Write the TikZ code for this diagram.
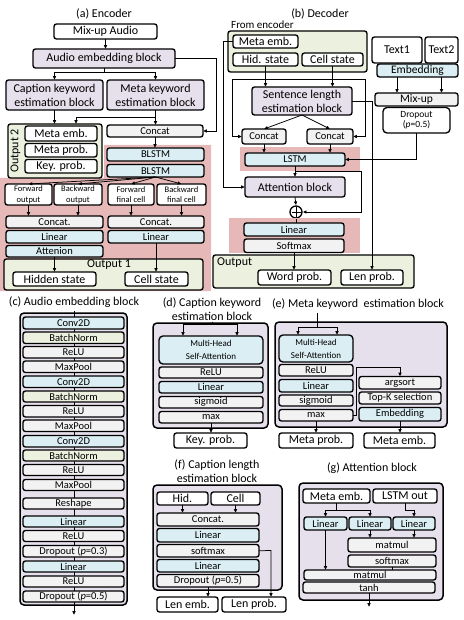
\documentclass[tikz,border=0pt]{standalone}
\usepackage{fontspec}
\setmainfont{Carlito}
\usetikzlibrary{arrows.meta}
\definecolor{lav}{HTML}{E6E0EC}
\definecolor{lblue}{HTML}{DAEEF3}
\definecolor{lgray}{HTML}{F2F2F2}
\definecolor{lgreen}{HTML}{EBF1DE}
\definecolor{lpink}{HTML}{E6B9B8}
\newcommand\szL{\fontsize{12}{14}\selectfont}
\newcommand\szT{\fontsize{11}{13}\selectfont}
\newcommand\szM{\fontsize{10.5}{12}\selectfont}
\newcommand\szN{\fontsize{9.5}{10.5}\selectfont}
\newcommand\szS{\fontsize{8.5}{10.5}\selectfont}
\newcommand\mybox[7]{\node[bx,#6,minimum width={(#4-#2)*1pt},minimum height={(#5-#3)*1pt}] (#1) at ({(#2+#4)/2},{(#3+#5)/2}) {#7};}
\begin{document}
\begin{tikzpicture}[x=1pt,y=-1pt,
  bx/.style={draw,line width=1.35pt,rounded corners=2.5pt,inner sep=0pt,outer sep=0pt,align=center},
  cont/.style={draw,line width=1.5pt,rounded corners=4pt,inner sep=0pt,outer sep=0pt},
  arr/.style={-{Latex[length=3.8pt,width=3.6pt]},line width=0.75pt},
  ln/.style={line width=0.75pt},
  wf/.style={fill=white,font=\szL},
  gf/.style={fill=lgray,font=\szM},
  bf/.style={fill=lblue,font=\szM},
  nf/.style={fill=lgreen,font=\szM}]
\useasboundingbox (0,0) rectangle (463,620);
%================ (a) Encoder
\node[font=\szL] (ta) at (104,14) {(a) Encoder};
\mybox{mix}{54}{24}{157}{39}{wf}{Mix-up Audio}
\mybox{aeb}{33}{49}{175}{68}{fill=lav,font=\szL}{Audio embedding block}
\mybox{ckb}{6}{80}{103}{110}{fill=lav,font=\szL}{Caption keyword\\estimation block}
\mybox{mkb}{107}{80}{204}{110}{fill=lav,font=\szL}{Meta keyword\\estimation block}
\fill[lpink] (104,145) -- (211,145) -- (211,291) -- (0,291) -- (0,178) -- (104,178) -- cycle;
\mybox{out2}{8}{124}{102}{178}{fill=lgreen}{}
\node[font=\szL,rotate=90] (o2t) at (15.5,151) {Output 2};
\mybox{me}{25}{126}{97}{141}{wf}{Meta emb.}
\mybox{mp}{25}{143.5}{97}{157}{wf}{Meta prob.}
\mybox{kp}{25}{159.5}{97}{173}{wf}{Key. prob.}
\mybox{cate}{107}{125}{203}{137}{gf}{Concat}
\mybox{bl1}{107}{148}{204}{161}{bf}{BLSTM}
\mybox{bl2}{107}{164.5}{204}{177}{bf}{BLSTM}
\mybox{fo}{5}{184}{52}{205}{fill=white,font=\szS}{Forward\\output}
\mybox{bo}{54}{184}{102}{205}{fill=white,font=\szS}{Backward\\output}
\mybox{ff}{108}{184}{154}{205}{fill=white,font=\szS}{Forward\\final cell}
\mybox{bfc}{157}{184}{206}{205}{fill=white,font=\szS}{Backward\\final cell}
\mybox{catl}{6}{216}{103}{228}{gf}{Concat.}
\mybox{linl}{6}{230.5}{103}{243}{bf}{Linear}
\mybox{att}{6}{245.5}{103}{257}{bf}{Attenion}
\mybox{catr}{108}{216}{204}{228}{gf}{Concat.}
\mybox{linr}{108}{230.5}{204}{243}{bf}{Linear}
\mybox{out1}{4}{259}{203}{290}{fill=lgreen}{}
\node[font=\szL] (o1t) at (109,265) {Output 1};
\mybox{hid}{13}{272}{96}{286}{wf}{Hidden state}
\mybox{cell}{125}{272}{188}{286}{wf}{Cell state}
% connectors
\draw[arr] (mix.south) -- (mix.south |- aeb.north);
\coordinate (j1) at (105,72);
\draw[ln] (aeb.south) -- (aeb.south |- j1);
\draw[arr] (j1) -| (ckb.north);
\draw[arr] (j1) -| (mkb.north);
\coordinate (r1) at (216,58);
\draw[arr] (aeb.east |- r1) -- (r1) |- (cate.east);
\draw[arr] (ckb.south) -- (ckb.south |- out2.north);
\coordinate (j2) at (155.5,117);
\coordinate (j3) at (76,117);
\draw[arr] (mkb.south) -- (mkb.south |- cate.north);
\draw[arr] (j2) -- (j3) -- (j3 |- out2.north);
\draw[arr] (cate.south) -- (cate.south |- bl1.north);
\draw[arr] (bl2.south) -- (fo.north);
\draw[arr] (bl2.south) -- (bo.north);
\draw[arr] (bl2.south) -- (ff.north);
\draw[arr] (bl2.south) -- (bfc.north);
\draw[arr] (fo.south) -- (fo.south |- catl.north);
\draw[arr] (bo.south) -- (bo.south |- catl.north);
\draw[arr] (ff.south) -- (ff.south |- catr.north);
\draw[arr] (bfc.south) -- (bfc.south |- catr.north);
\draw[arr] (att.south) -- (att.south |- hid.north);
\draw[arr] (linr.south) -- (linr.south |- cell.north);
%================ (b) Decoder
\node[font=\szL] (tb) at (320,14) {(b) Decoder};
\node[font=\szT,anchor=west,inner sep=0pt] (fet) at (231,25) {From encoder};
\mybox{fe}{228}{31}{367}{72}{fill=lgreen}{}
\mybox{dme}{233}{35}{298}{48}{wf}{Meta emb.}
\mybox{dhid}{233}{53}{298}{66}{wf}{Hid. state}
\mybox{dcell}{302}{53}{363}{66}{wf}{Cell state}
\mybox{slb}{252}{87}{352}{115}{fill=lav,font=\szL}{Sentence length\\estimation block}
\mybox{dcl}{242}{129}{286}{144}{gf}{Concat}
\mybox{dcr}{307}{129}{353}{144}{gf}{Concat}
\fill[lpink] (240,147) rectangle (360,171);
\mybox{lstm}{245}{153}{345}{166}{bf}{LSTM}
\mybox{attb}{245}{177}{345}{197}{fill=lav,font=\szL}{Attention block}
\node[draw,circle,line width=1.35pt,minimum size=12pt,inner sep=0pt,fill=white] (plus) at (296,212) {};
\draw[line width=0.9pt] (291.5,212) -- (300.5,212) (296,207.5) -- (296,216.5);
\fill[lpink] (229,218) rectangle (360,253);
\mybox{dlin}{244}{223}{344}{236}{bf}{Linear}
\mybox{soft}{244}{239}{344}{252.5}{gf}{Softmax}
\mybox{dout}{213}{255}{414}{288}{fill=lgreen}{}
\node[font=\szL,anchor=west,inner sep=0pt] (dot) at (217,263) {Output};
\mybox{word}{258}{270}{331}{285}{wf}{Word prob.}
\mybox{lenp}{341}{270}{403}{285}{wf}{Len prob.}
\mybox{t1}{372}{37}{422}{63}{wf}{Text1}
\mybox{t2}{425}{37}{458}{63}{wf}{Text2}
\mybox{dmix}{375}{93}{458}{106}{fill=lgray,font=\fontsize{11.5}{13}\selectfont}{Mix-up}
\draw[arr] (t1.south) -- (t1.south |- dmix.north);
\draw[arr] (t2.south) -- (t2.south |- dmix.north);
\mybox{demb}{377}{64}{458}{77}{fill=lblue,font=\fontsize{11.5}{13}\selectfont}{Embedding}
\mybox{ddrop}{383}{107.5}{450}{133}{fill=white,rounded corners=4pt,font=\szN}{Dropout\\(\textit{p}=0.5)}
% connectors
\coordinate (dl) at (223,41.5);
\draw[arr] (dme.west) -- (dl) |- (attb.west);
\draw[arr] (dhid.south) -- (dhid.south |- slb.north);
\draw[arr] (dcell.south) -- (dcell.south |- slb.north);
\coordinate (hl) at (232,79);
\coordinate (hr) at (365,79);
\draw[ln] (hl) -- (hr);
\draw[arr] (hl) |- (dcl.west);
\draw[arr] (hr) |- (dcr.east);
\draw[arr] (slb.south) -- (dcl.north);
\draw[arr] (slb.south) -- (dcr.north);
\coordinate (sr) at (372,101);
\draw[arr] (slb.east |- sr) -- (sr) -- (sr |- lenp.north);
\draw[arr] (dcl.south) -- (dcl.south |- lstm.north);
\draw[arr] (dcr.south) -- (dcr.south |- lstm.north);
\coordinate (dr) at (416.5,159.5);
\draw[arr] (ddrop.south) -- (dr) -- (lstm.east |- dr);
\draw[arr] (lstm.south) -- (lstm.south |- attb.north);
\coordinate (lb) at (295,171.5);
\coordinate (lr) at (361,171.5);
\draw[arr] (lb) -- (lr) |- (plus.east);
\draw[arr] (attb.south) -- (plus.north);
\draw[ln] (plus.south) -- (plus.south |- dlin.north);
\draw[arr] (soft.south) -- (soft.south |- word.north);
%================ (c) Audio embedding block
\node[font=\szL] (tc) at (74,302) {(c) Audio embedding block};
\mybox{cout}{20}{313}{127}{605}{cont,fill=lav}{}
\coordinate (cend) at (74,615);
\draw[arr] (tc.south) -- (cend);
\mybox{c1}{23}{317}{124}{329}{bf}{Conv2D}
\mybox{c2}{23}{332}{124}{343.5}{nf}{BatchNorm}
\mybox{c3}{23}{346.5}{124}{358}{gf}{ReLU}
\mybox{c4}{23}{361}{124}{372.5}{gf}{MaxPool}
\mybox{c5}{23}{376}{124}{387.5}{bf}{Conv2D}
\mybox{c6}{23}{391}{124}{402}{nf}{BatchNorm}
\mybox{c7}{23}{405.5}{124}{417}{gf}{ReLU}
\mybox{c8}{23}{420}{124}{431.5}{gf}{MaxPool}
\mybox{c9}{23}{435.5}{124}{447}{bf}{Conv2D}
\mybox{c10}{23}{450}{124}{461}{nf}{BatchNorm}
\mybox{c11}{23}{464.5}{124}{475.5}{gf}{ReLU}
\mybox{c12}{23}{479.5}{124}{490.5}{gf}{MaxPool}
\mybox{c13}{23}{498}{124}{509}{gf}{Reshape}
\mybox{c14}{23}{516}{124}{527}{bf}{Linear}
\mybox{c15}{23}{530.5}{124}{541.5}{gf}{ReLU}
\mybox{c16}{23}{545.5}{124}{557}{gf}{Dropout (\textit{p}=0.3)}
\mybox{c17}{23}{561}{124}{572}{bf}{Linear}
\mybox{c18}{23}{576}{124}{587}{gf}{ReLU}
\mybox{c19}{23}{591}{124}{602}{gf}{Dropout (\textit{p}=0.5)}
%================ (d) Caption keyword estimation block
\node[font=\szL,align=center,inner sep=1pt] (td) at (212,309) {(d) Caption keyword\\estimation block};
\mybox{dout2}{153}{323}{268}{428}{cont,fill=lav}{}
\mybox{dmh}{159}{336}{263}{364}{fill=lblue,rounded corners=4pt,font=\fontsize{9}{13}\selectfont}{Multi-Head\\Self-Attention}
\mybox{d1}{159}{367}{263}{378}{gf}{ReLU}
\mybox{d2}{159}{381.5}{263}{393}{bf}{Linear}
\mybox{d3}{159}{396.5}{263}{408}{gf}{sigmoid}
\mybox{d4}{159}{411.5}{263}{423}{gf}{max}
\mybox{dkp}{174}{433}{247}{448}{wf}{Key. prob.}
\coordinate (dj) at (212,324);
\coordinate (dbl) at (183,324);
\coordinate (dbr) at (237,324);
\draw[ln] (td.south) -- (dj);
\draw[ln] (dbl) -- (dbr);
\draw[arr] (dbl) -- (dbl |- dmh.north);
\draw[arr] (dbr) -- (dbr |- dmh.north);
\draw[arr] (d4.south) -- (d4.south |- dkp.north);
%================ (e) Meta keyword estimation block
\node[font=\szL] (te) at (358,304) {(e) Meta keyword\ \ estimation block};
\mybox{eout}{275}{322}{447}{427}{cont,fill=lav}{}
\mybox{emh}{279}{335}{353}{362}{fill=lblue,rounded corners=4pt,font=\fontsize{9}{13}\selectfont}{Multi-Head\\Self-Attention}
\mybox{e1}{279}{364.5}{353}{376}{gf}{ReLU}
\mybox{e2}{279}{379.5}{353}{392}{bf}{Linear}
\mybox{e3}{279}{395}{353}{406}{gf}{sigmoid}
\mybox{e4}{279}{409.5}{353}{421}{gf}{max}
\mybox{e5}{359}{376.5}{441}{389}{gf}{argsort}
\mybox{e6}{359}{392}{441}{404}{gf}{Top-K selection}
\mybox{e7}{359}{407.5}{441}{421}{bf}{Embedding}
\mybox{emp}{279}{433}{353}{448}{wf}{Meta prob.}
\mybox{eme}{364}{433}{435}{448}{wf}{Meta emb.}
\coordinate (ej) at (317,327);
\coordinate (ebl) at (298,327);
\coordinate (ebr) at (337,327);
\draw[ln] (te.south -| ej) -- (ej);
\draw[ln] (ebl) -- (ebr);
\draw[arr] (ebl) -- (ebl |- emh.north);
\draw[arr] (ebr) -- (ebr |- emh.north);
\coordinate (em1) at (356,415);
\coordinate (em2) at (356,367);
\draw[arr] (e4.east |- em1) -- (em1) -- (em2) -| (e5.north);
\draw[arr] (e4.south) -- (e4.south |- emp.north);
\draw[arr] (e7.south) -- (e7.south |- eme.north);
%================ (f) Caption length estimation block
\node[font=\szL,align=center,inner sep=1pt] (tf) at (217,471) {(f) Caption length\\estimation block};
\mybox{fout}{153}{485}{282}{590}{cont,fill=lav}{}
\mybox{fhid}{157}{492}{208}{505}{wf}{Hid.}
\mybox{fcell}{211}{492}{260}{505}{wf}{Cell}
\mybox{f1}{157}{513}{259}{526}{gf}{Concat.}
\mybox{f2}{157}{528.5}{259}{542}{bf}{Linear}
\mybox{f3}{157}{544.5}{259}{557}{gf}{softmax}
\mybox{f4}{157}{559.5}{259}{572}{bf}{Linear}
\mybox{f5}{157}{574.5}{259}{587}{gf}{Dropout (\textit{p}=0.5)}
\mybox{fle}{157}{597}{218}{612}{wf}{Len emb.}
\mybox{flp}{222}{597}{286}{612}{wf}{Len prob.}
\draw[arr] (fhid.south) -- (fhid.south |- f1.north);
\draw[arr] (fcell.south) -- (fcell.south |- f1.north);
\draw[arr] (f5.south) -- (f5.south |- fle.north);
\coordinate (fr) at (271,550.5);
\draw[arr] (f3.east) -- (fr) -- (fr |- flp.north);
%================ (g) Attention block
\node[font=\szL] (tg) at (372,468) {(g) Attention block};
\mybox{gout}{299}{483}{443}{600}{cont,fill=lav}{}
\mybox{gme}{303}{489}{370}{503}{wf}{Meta emb.}
\mybox{gls}{373}{489}{437}{503}{wf}{LSTM out}
\mybox{gl1}{304}{517}{347}{530}{bf}{Linear}
\mybox{gl2}{349}{517}{391}{530}{bf}{Linear}
\mybox{gl3}{393}{517}{435}{530}{bf}{Linear}
\mybox{gm1}{348}{538}{436}{552}{gf}{matmul}
\mybox{gs}{348}{555}{436}{567}{gf}{softmax}
\mybox{gm2}{304}{570}{436}{580}{gf}{}
\node[font=\szM,inner sep=0pt] (gm2t) at (370,574.5) {matmul};
\mybox{gt}{303}{582}{435}{593}{gf}{tanh}
\coordinate (gj) at (336.5,510);
\draw[ln] (gme.south) -- (gj);
\draw[arr] (gj) -| (gl1.north);
\draw[arr] (gj) -| (gl2.north);
\coordinate (gk) at (405,510);
\draw[arr] (gls.south -| gk) -- (gk) -| (gl3.north);
\draw[arr] (gl2.south) -- (gl2.south |- gm1.north);
\draw[arr] (gl3.south) -- (gl3.south |- gm1.north);
\draw[arr] (gl1.south) -- (gl1.south |- gm2.north);
\draw[ln] (gs.south) -- (gs.south |- gm2.north);
\coordinate (gend) at (369,607);
\draw[arr] (gt.south) -- (gend);
\end{tikzpicture}
\end{document}
